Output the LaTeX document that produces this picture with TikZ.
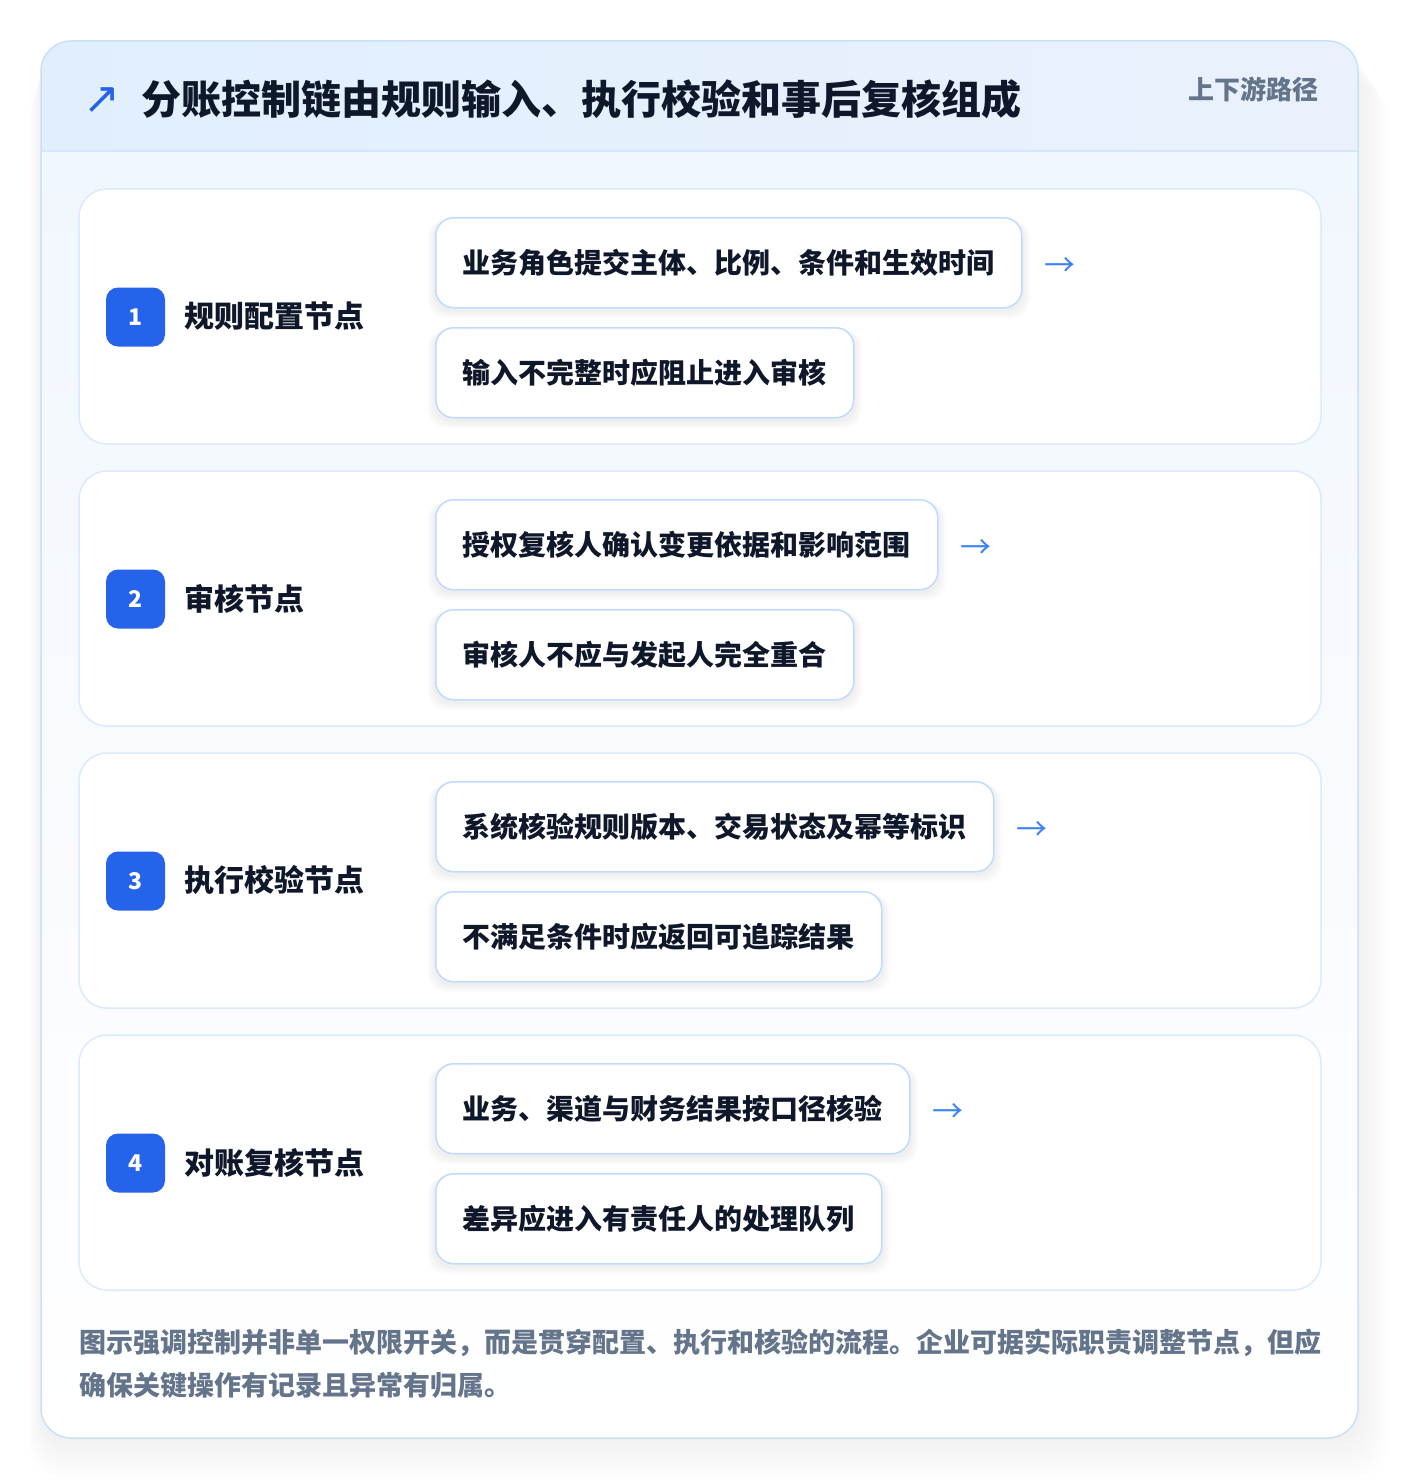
\documentclass[tikz,border=0pt]{standalone}
\usepackage{fontspec}
\setmainfont{Noto Sans CJK SC}
\newfontfamily\symf{DejaVu Sans}
\definecolor{ink}{HTML}{0F172A}
\definecolor{muted}{HTML}{64748B}
\definecolor{brand}{HTML}{2563EB}
\definecolor{arrowc}{HTML}{3B82F6}
\definecolor{boxline}{HTML}{BFDBFE}
\definecolor{panelline}{HTML}{DBEAFE}
\definecolor{cardline}{HTML}{C7E2F6}
\definecolor{hdrL}{HTML}{E1EFFD}
\definecolor{hdrR}{HTML}{EAF1FD}
\definecolor{hdrline}{HTML}{D5E6F8}
\definecolor{bodytop}{HTML}{F1F7FE}
\pgfdeclarelayer{bg}
\pgfdeclarelayer{shadow}
\pgfsetlayers{bg,shadow,main}
\begin{document}
\begin{tikzpicture}[x=1pt,y=-1pt,
  panel/.style={draw=panelline, line width=1.5pt, fill=white, rounded corners=28pt},
  badge/.style={fill=brand, rounded corners=12pt, minimum width=59pt, minimum height=59pt, inner sep=0pt, text=white, font=\fontsize{23}{23}\selectfont\bfseries},
  steplabel/.style={anchor=west, inner sep=0pt, text=ink, font=\fontsize{30}{30}\selectfont\bfseries},
  stepbox/.style={draw=boxline, line width=1.5pt, fill=white, rounded corners=18pt, minimum height=90pt, inner xsep=27pt, inner ysep=0pt, anchor=north west, text=ink, font=\fontsize{28}{28}\selectfont\bfseries},
  nextarrow/.style={anchor=west, inner sep=0pt, text=arrowc, font=\fontsize{31}{31}\selectfont},
  titletext/.style={anchor=west, inner sep=0pt, text=ink, font=\fontsize{40}{40}\selectfont\bfseries},
  tagtext/.style={anchor=east, inner sep=0pt, text=muted, font=\fontsize{26}{26}\selectfont\bfseries},
  footnote/.style={anchor=west, inner sep=0pt, text=muted, font=\fontsize{27}{27}\selectfont\bfseries},
  titleicon/.style={inner sep=0pt, text=brand, font=\symf\fontsize{44}{44}\selectfont}
]
\useasboundingbox (0,0) rectangle (1400,1482);
\begin{pgfonlayer}{bg}
\fill[white] (0,0) rectangle (1400,1482);
% card shadow
\foreach \k in {1,...,14} {
  \fill[black, opacity=0.0045, rounded corners=34pt] ({41-0.8*\k},{41+3*\k}) rectangle ({1358+2.2*\k},{1438+3*\k});
}
% card body
\begin{scope}
\clip[rounded corners=30pt] (41,41) rectangle (1358,1438);
\shade[top color=bodytop, bottom color=white] (41,151) rectangle (1358,1438);
\shade[left color=hdrL, right color=hdrR] (41,41) rectangle (1358,151);
\end{scope}
\draw[hdrline, line width=1.5pt] (41,151) -- (1358,151);
\draw[cardline, line width=1.5pt, rounded corners=30pt] (41,41) rectangle (1358,1438);
\end{pgfonlayer}

\node[titleicon] (ticon) at (102,101) {↗};
\node[titletext] (title) at (141,99) {分账控制链由规则输入、执行校验和事后复核组成};
\node[tagtext] (tag) at (1319,89) {上下游路径};

\foreach \i/\lab/\ta/\tb in {
  1/规则配置节点/业务角色提交主体、比例、条件和生效时间/输入不完整时应阻止进入审核,
  2/审核节点/授权复核人确认变更依据和影响范围/审核人不应与发起人完全重合,
  3/执行校验节点/系统核验规则版本、交易状态及幂等标识/不满足条件时应返回可追踪结果,
  4/对账复核节点/业务、渠道与财务结果按口径核验/差异应进入有责任人的处理队列} {
  \pgfmathsetmacro\ytop{189+282*(\i-1)}
  \begin{pgfonlayer}{bg}
    \draw[panel] (79,\ytop) rectangle (1321,{\ytop+255});
  \end{pgfonlayer}
  \node[badge] (bd\i) at (135.5,{\ytop+128}) {\i};
  \node[steplabel] (lb\i) at (184,{\ytop+127.5}) {\lab};
  \node[stepbox] (sa\i) at (435,{\ytop+28}) {\ta};
  \node[stepbox] (sb\i) at (435,{\ytop+138}) {\tb};
  \node[nextarrow] (ar\i) at ([xshift=22pt,yshift=-4pt]sa\i.east) {→};
  \begin{pgfonlayer}{shadow}
    \foreach \n in {sa\i,sb\i} {
      \foreach \k in {1,...,8} {
        \pgfmathsetmacro\dy{-2-\k}
        \fill[black, opacity=0.007, rounded corners=18pt] ([xshift=-\k pt, yshift=\dy pt]\n.south west) rectangle ([xshift=\k pt, yshift=-3pt]\n.north east);
      }
    }
  \end{pgfonlayer}
}

\node[footnote] (ft1) at (79,1343) {图示强调控制并非单一权限开关，而是贯穿配置、执行和核验的流程。企业可据实际职责调整节点，但应};
\node[footnote] (ft2) at (79,1385) {确保关键操作有记录且异常有归属。};
\end{tikzpicture}
\end{document}
